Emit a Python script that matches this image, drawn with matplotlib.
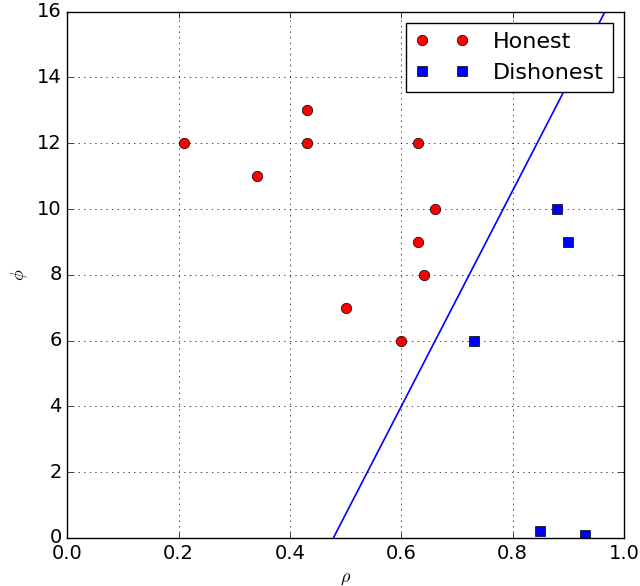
import numpy as np
import matplotlib
matplotlib.use("Agg")
import matplotlib.pyplot as plt

plt.style.use("classic")

# rho / phi for each group
honest_rho = [0.21, 0.34, 0.43, 0.43, 0.63, 0.66, 0.63, 0.64, 0.50, 0.60]
honest_phi = [12, 11, 13, 12, 12, 10, 9, 8, 7, 6]
dishonest_rho = [0.73, 0.88, 0.90, 0.85, 0.93]
dishonest_phi = [6, 10, 9, 0.2, 0.1]

# separating line phi = slope * rho + intercept
slope = 32.8
intercept = -15.68

fig = plt.figure(figsize=(6.4, 5.86), dpi=100)
ax = fig.add_axes([0.105, 0.082, 0.870, 0.898])

ax.plot(honest_rho, honest_phi, "ro", markersize=7.5, label="Honest")
ax.plot(dishonest_rho, dishonest_phi, "bs", markersize=7.5, label="Dishonest")

xs = np.linspace(0, 1, 50)
ax.plot(xs, slope * xs + intercept, "b-", linewidth=1.2)

ax.set_xlim(0, 1)
ax.set_ylim(0, 16)
ax.set_xticks(np.arange(0, 1.01, 0.2))
ax.set_yticks(np.arange(0, 17, 2))
ax.tick_params(labelsize=14)
ax.grid(True)
ax.set_xlabel(r"$\rho$", fontsize=13)
ax.set_ylabel(r"$\phi$", fontsize=13)
ax.legend(loc="upper right", numpoints=2, prop={"size": 16},
          handlelength=2.4, handletextpad=1.1)

fig.savefig("out.png", dpi=100)
